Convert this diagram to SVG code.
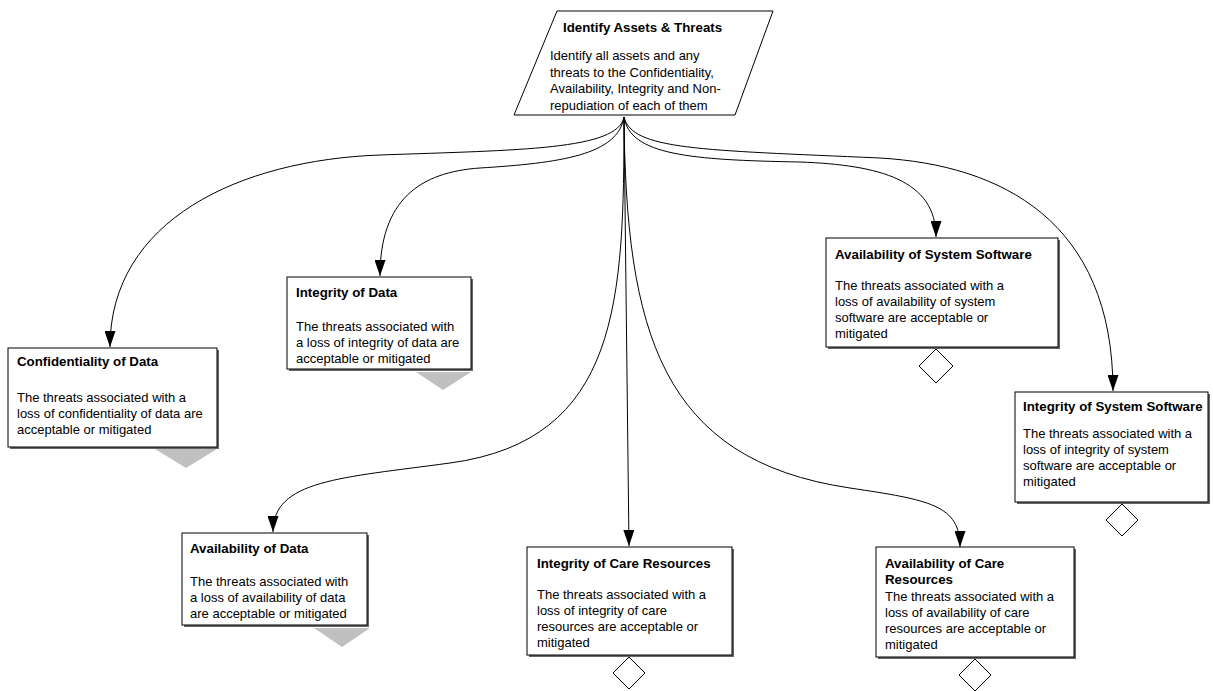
<svg xmlns="http://www.w3.org/2000/svg" width="1213" height="691" viewBox="0 0 1213 691">
  <defs>
    <marker id="arrow" viewBox="0 0 16 11" refX="16" refY="5.5" markerWidth="16" markerHeight="11" markerUnits="userSpaceOnUse" orient="auto">
      <path d="M0,0 L16,5.5 L0,11 z" fill="#000"/>
    </marker>
  </defs>
  <style>
    text { font-family: "Liberation Sans", Arial, sans-serif; font-size: 13px; fill: #000; }
    .title { font-weight: bold; font-size: 13.3px; }
    .box { fill: #fff; stroke: #000; stroke-width: 1; }
    .shadow { fill: #666; }
    .tri { fill: #c0c0c0; stroke: none; }
    .dia { fill: #fff; stroke: #000; stroke-width: 1; }
    .conn { fill: none; stroke: #000; stroke-width: 1; marker-end: url(#arrow); }
  </style>
  <rect width="1213" height="691" fill="#fff"/>

  <!-- connectors: all leave the bottom centre of the root goal -->
  <g id="connectors">
    <path class="conn" d="M624,117 C618,150 520,150 380,155 C240,160 110,220 110,347"/>
    <path class="conn" d="M624,117 C618,155 560,163 480,168 C420,172 380,200 380,276"/>
    <path class="conn" d="M624,117 C630,155 690,160 800,162 C880,165 936,180 936,237"/>
    <path class="conn" d="M624,117 C632,150 700,150 880,158 C1000,165 1113,220 1113,391"/>
    <path class="conn" d="M624,117 C624,300 620,440 450,463 C340,478 273,480 273,532"/>
    <path class="conn" d="M624,117 L629,546"/>
    <path class="conn" d="M624,117 C626,330 660,460 850,488 C930,500 960,505 960,547"/>
  </g>

  <!-- root goal -->
  <g id="identify-assets">
    <polygon points="557,11 773,11 735,115 514,115" fill="#fff" stroke="#000" stroke-width="1"/>
    <text class="title" x="563" y="32">Identify Assets &amp; Threats</text>
    <text x="550" y="60">Identify all assets and any</text>
    <text x="550" y="77">threats to the Confidentiality,</text>
    <text x="550" y="93">Availability, Integrity and Non-</text>
    <text x="550" y="110">repudiation of each of them</text>
  </g>

  <g id="confidentiality-of-data">
    <rect class="shadow" x="10" y="350" width="209" height="99"/>
    <rect class="box" x="8" y="348" width="209" height="99"/>
    <text class="title" x="17" y="366">Confidentiality of Data</text>
    <text x="17" y="402">The threats associated with a</text>
    <text x="17" y="418">loss of confidentiality of data are</text>
    <text x="17" y="434">acceptable or mitigated</text>
    <polygon class="tri" points="155,449 217,449 186,468"/>
  </g>

  <g id="integrity-of-data">
    <rect class="shadow" x="289" y="279" width="184" height="92"/>
    <rect class="box" x="287" y="277" width="184" height="92"/>
    <text class="title" x="296" y="297">Integrity of Data</text>
    <text x="296" y="331">The threats associated with</text>
    <text x="296" y="347">a loss of integrity of data are</text>
    <text x="296" y="363">acceptable or mitigated</text>
    <polygon class="tri" points="416,372 471,372 443,390"/>
  </g>

  <g id="availability-of-system-software">
    <rect class="shadow" x="828" y="240" width="232" height="109"/>
    <rect class="box" x="826" y="238" width="232" height="109"/>
    <text class="title" x="835" y="259">Availability of System Software</text>
    <text x="835" y="290">The threats associated with a</text>
    <text x="835" y="306">loss of availability of system</text>
    <text x="835" y="322">software are acceptable or</text>
    <text x="835" y="338">mitigated</text>
    <polygon class="dia" points="936,349 953,366 936,383 919,366"/>
  </g>

  <g id="integrity-of-system-software">
    <rect class="shadow" x="1017" y="394" width="193" height="110"/>
    <rect class="box" x="1015" y="392" width="193" height="110"/>
    <text class="title" x="1023" y="411">Integrity of System Software</text>
    <text x="1023" y="438">The threats associated with a</text>
    <text x="1023" y="454">loss of integrity of system</text>
    <text x="1023" y="470">software are acceptable or</text>
    <text x="1023" y="486">mitigated</text>
    <polygon class="dia" points="1122,504 1138,520 1122,536 1106,520"/>
  </g>

  <g id="availability-of-data">
    <rect class="shadow" x="184" y="535" width="185" height="92"/>
    <rect class="box" x="182" y="533" width="185" height="92"/>
    <text class="title" x="190" y="553">Availability of Data</text>
    <text x="190" y="586">The threats associated with</text>
    <text x="190" y="602">a loss of availability of data</text>
    <text x="190" y="618">are acceptable or mitigated</text>
    <polygon class="tri" points="314,628 370,628 342,647"/>
  </g>

  <g id="integrity-of-care-resources">
    <rect class="shadow" x="529" y="549" width="205" height="108"/>
    <rect class="box" x="527" y="547" width="205" height="108"/>
    <text class="title" x="537" y="568">Integrity of Care Resources</text>
    <text x="537" y="599">The threats associated with a</text>
    <text x="537" y="615">loss of integrity of care</text>
    <text x="537" y="631">resources are acceptable or</text>
    <text x="537" y="647">mitigated</text>
    <polygon class="dia" points="629,657 645,673 629,689 613,673"/>
  </g>

  <g id="availability-of-care-resources">
    <rect class="shadow" x="878" y="549" width="198" height="110"/>
    <rect class="box" x="876" y="547" width="198" height="110"/>
    <text class="title" x="885" y="568">Availability of Care</text>
    <text class="title" x="885" y="584">Resources</text>
    <text x="885" y="601">The threats associated with a</text>
    <text x="885" y="617">loss of availability of care</text>
    <text x="885" y="633">resources are acceptable or</text>
    <text x="885" y="649">mitigated</text>
    <polygon class="dia" points="975,659 991,675 975,691 959,675"/>
  </g>
</svg>
